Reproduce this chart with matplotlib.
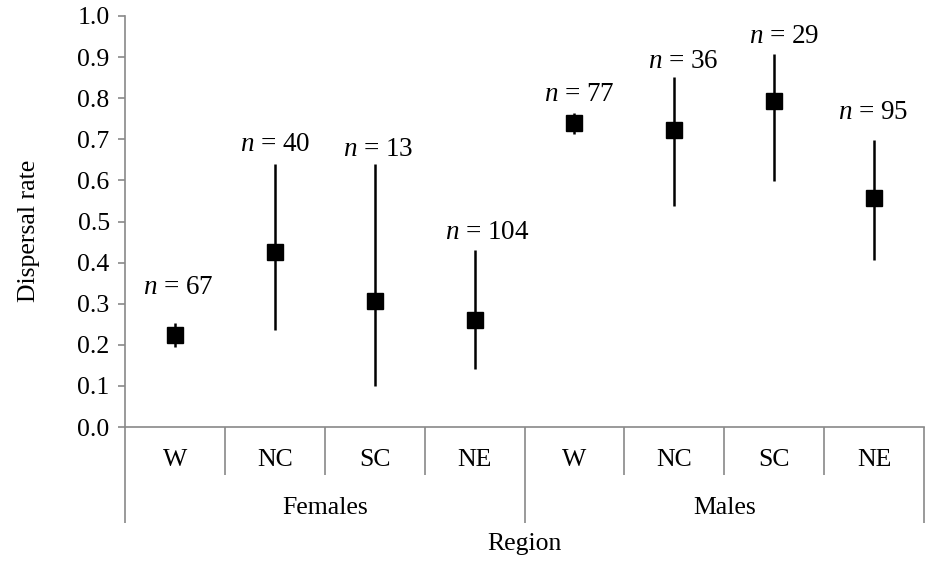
import matplotlib
matplotlib.use("Agg")
import matplotlib.pyplot as plt

plt.rcParams["font.family"] = "Liberation Serif"
plt.rcParams["mathtext.fontset"] = "custom"
plt.rcParams["mathtext.rm"] = "Liberation Serif"
plt.rcParams["mathtext.it"] = "Liberation Serif:italic"

groups = ["Females", "Males"]
regions = ["W", "NC", "SC", "NE", "W", "NC", "SC", "NE"]
rate = [0.224, 0.425, 0.307, 0.260, 0.739, 0.723, 0.793, 0.558]
lower = [0.195, 0.236, 0.100, 0.140, 0.714, 0.538, 0.599, 0.406]
upper = [0.253, 0.639, 0.639, 0.431, 0.763, 0.852, 0.908, 0.698]
sample_n = [67, 40, 13, 104, 77, 36, 29, 95]

# hand-placed nudges for the n labels (pixels: right, up from bar top)
label_nudge = [(3, 36), (0, 20), (4, 15), (13, 17), (5, 19), (9, 15), (10, 17), (-1, 28)]

GRAY = "#898989"
FS = 18.5
px = 0.72  # points per pixel at dpi 100

fig = plt.figure(figsize=(9.25, 5.61), dpi=100)
ax = fig.add_axes([125 / 925, 1 - 427 / 561, 799 / 925, 411 / 561])

x = [i + 0.5 for i in range(len(rate))]
yerr = [[r - lo for r, lo in zip(rate, lower)], [hi - r for r, hi in zip(rate, upper)]]
ax.errorbar(x, rate, yerr=yerr, fmt="s", color="black", ms=11.3,
            elinewidth=1.8, capsize=0, zorder=3)

for xi, hi, n, (dx, dy) in zip(x, upper, sample_n, label_nudge):
    ax.annotate(f"$n$ = {n}", (xi, hi), xytext=(dx * px, dy * px),
                textcoords="offset points", ha="center", va="center", fontsize=19.5)

ax.set_xlim(0, len(rate))
ax.set_ylim(0, 1.0)
ax.set_yticks([i / 10 for i in range(11)])
ax.set_yticklabels([f"{i / 10:.1f}" for i in range(11)], fontsize=FS)

for side in ["top", "right"]:
    ax.spines[side].set_visible(False)
for side in ["left", "bottom"]:
    ax.spines[side].set_color(GRAY)
    ax.spines[side].set_linewidth(1.2)
ax.tick_params(axis="y", direction="out", length=5, width=1.2, color=GRAY, pad=6)

# category dividers below the axis: short between regions, long between groups
ax.set_xticks([0, 4, 8])
ax.set_xticks([1, 2, 3, 5, 6, 7], minor=True)
ax.tick_params(axis="x", which="major", direction="out", length=96 * px,
               width=1.2, color=GRAY, labelbottom=False)
ax.tick_params(axis="x", which="minor", direction="out", length=48 * px,
               width=1.2, color=GRAY, labelbottom=False)

for xi, reg in zip(x, regions):
    ax.annotate(reg, (xi, 0), xycoords=("data", "axes fraction"),
                xytext=(0, -33 * px), textcoords="offset points",
                ha="center", va="center", fontsize=FS)
for gi, g in enumerate(groups):
    ax.annotate(g, (gi * 4 + 2, 0), xycoords=("data", "axes fraction"),
                xytext=(0, -81 * px), textcoords="offset points",
                ha="center", va="center", fontsize=FS)

ax.annotate("Region", (4, 0), xycoords=("data", "axes fraction"),
            xytext=(0, -117 * px), textcoords="offset points",
            ha="center", va="center", fontsize=FS)
ax.set_ylabel("Dispersal rate", fontsize=FS)
ax.yaxis.set_label_coords(-0.106, 0.478)

fig.savefig("out.png", dpi=100)
